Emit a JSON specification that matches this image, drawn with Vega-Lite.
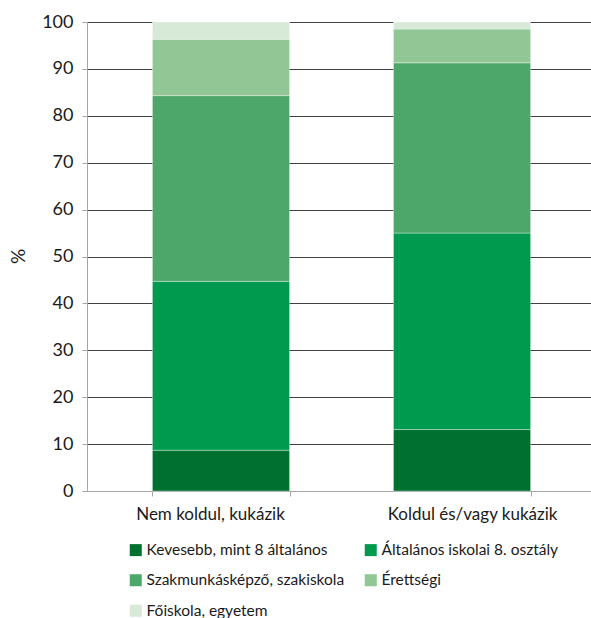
{
  "$schema": "https://vega.github.io/schema/vega-lite/v6.json",
  "autosize": "none",
  "width": 504,
  "height": 469,
  "padding": {"left": 87, "top": 22, "right": 0, "bottom": 127},
  "background": "white",
  "config": {
    "font": "Lato",
    "view": {"stroke": null}
  },
  "data": {
    "values": [
      {"csoport": "Nem koldul, kukázik", "vegzettseg": "Kevesebb, mint 8 általános", "sorrend": 1, "arany": 8.7},
      {"csoport": "Nem koldul, kukázik", "vegzettseg": "Általános iskolai 8. osztály", "sorrend": 2, "arany": 36.0},
      {"csoport": "Nem koldul, kukázik", "vegzettseg": "Szakmunkásképző, szakiskola", "sorrend": 3, "arany": 39.6},
      {"csoport": "Nem koldul, kukázik", "vegzettseg": "Érettségi", "sorrend": 4, "arany": 12.0},
      {"csoport": "Nem koldul, kukázik", "vegzettseg": "Főiskola, egyetem", "sorrend": 5, "arany": 3.7},
      {"csoport": "Koldul és/vagy kukázik", "vegzettseg": "Kevesebb, mint 8 általános", "sorrend": 1, "arany": 13.1},
      {"csoport": "Koldul és/vagy kukázik", "vegzettseg": "Általános iskolai 8. osztály", "sorrend": 2, "arany": 41.9},
      {"csoport": "Koldul és/vagy kukázik", "vegzettseg": "Szakmunkásképző, szakiskola", "sorrend": 3, "arany": 36.3},
      {"csoport": "Koldul és/vagy kukázik", "vegzettseg": "Érettségi", "sorrend": 4, "arany": 7.2},
      {"csoport": "Koldul és/vagy kukázik", "vegzettseg": "Főiskola, egyetem", "sorrend": 5, "arany": 1.5}
    ]
  },
  "mark": {"type": "bar", "stroke": "white", "strokeWidth": 0.8, "strokeOpacity": 0.45},
  "encoding": {
    "x": {
      "field": "csoport",
      "type": "nominal",
      "sort": ["Nem koldul, kukázik", "Koldul és/vagy kukázik"],
      "scale": {"paddingInner": 0.431, "paddingOuter": 0.261, "align": 0.52},
      "axis": {
        "title": null,
        "labelAngle": 0,
        "labelFontSize": 17,
        "labelColor": "#1a1a1a",
        "labelPadding": 10,
        "labelOffset": {"condition": {"test": "datum.value === 'Nem koldul, kukázik'", "value": -11}, "value": 10},
        "domainColor": "#a6a6a6",
        "domainWidth": 1,
        "tickColor": "#a6a6a6",
        "tickSize": 5,
        "tickBand": "extent",
        "grid": false
      }
    },
    "y": {
      "field": "arany",
      "type": "quantitative",
      "stack": "zero",
      "scale": {"domain": [0, 100], "nice": false},
      "axis": {
        "title": "%",
        "titleFontSize": 19,
        "titleFontWeight": "normal",
        "titleColor": "#1a1a1a",
        "titleX": -69,
        "titleY": 234,
        "titleAlign": "center",
        "titleBaseline": "middle",
        "values": [0, 10, 20, 30, 40, 50, 60, 70, 80, 90, 100],
        "labelFontSize": 18,
        "labelColor": "#1a1a1a",
        "labelPadding": 9,
        "tickSize": 5,
        "tickColor": "#a6a6a6",
        "domainColor": "#a6a6a6",
        "domainWidth": 1,
        "grid": true,
        "gridColor": "#404040",
        "gridWidth": 1
      }
    },
    "color": {
      "field": "vegzettseg",
      "type": "nominal",
      "scale": {
        "domain": ["Kevesebb, mint 8 általános", "Általános iskolai 8. osztály", "Szakmunkásképző, szakiskola", "Érettségi", "Főiskola, egyetem"],
        "range": ["#00702f", "#009a4e", "#4ea76a", "#91c795", "#d6ead7"]
      },
      "legend": {
        "title": null,
        "orient": "none",
        "legendX": 41,
        "legendY": 520,
        "direction": "horizontal",
        "columns": 2,
        "symbolType": "square",
        "symbolSize": 144,
        "symbolStrokeWidth": 0,
        "labelFontSize": 15.5,
        "labelLimit": 400,
        "labelColor": "#1a1a1a",
        "labelOffset": 3,
        "rowPadding": 13.5,
        "columnPadding": 18
      }
    },
    "order": {"field": "sorrend", "type": "quantitative", "sort": "ascending"}
  }
}
